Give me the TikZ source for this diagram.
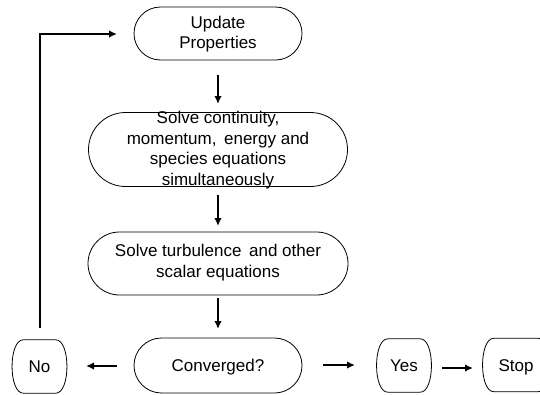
\documentclass[tikz,border=0pt]{standalone}
\usepackage{fontspec}
\setmainfont{Liberation Sans}
\usetikzlibrary{shapes.misc,arrows.meta}
\newcommand\smallframe[1]{%
  \draw[line width=0.8pt] ([xshift=9pt]#1.north west) -- ([xshift=-9pt]#1.north east)
    .. controls ([xshift=6pt]#1.north east) and ([xshift=6pt]#1.south east) .. ([xshift=-9pt]#1.south east)
    -- ([xshift=9pt]#1.south west)
    .. controls ([xshift=-6pt]#1.south west) and ([xshift=-6pt]#1.north west) .. cycle;}
\begin{document}
\begin{tikzpicture}[x=1pt,y=-1pt,
  stadium/.style={draw,line width=0.8pt,rounded rectangle,inner sep=0pt},
  smallbox/.style={rectangle,inner sep=0pt,minimum width=50pt,minimum height=53pt,text height=12.2pt,text depth=0pt,font=\fontsize{17}{20}\selectfont},
  txt/.style={align=center,font=\fontsize{17}{20.5}\selectfont,inner sep=0pt},
  flow/.style={line width=2pt,-{Latex[length=8pt,width=7.5pt]}}]
\useasboundingbox (0,0) rectangle (540,394);
\clip (0,0) rectangle (540,394);
\node[stadium,minimum width=168pt,minimum height=53pt] (up) at (218,33.5) {};
\node[txt] (upt) at (218,34) {Update\\Properties};
\node[stadium,minimum width=259pt,minimum height=74pt] (s2) at (218,149.5) {};
\node[txt] (s2t) at (218,150) {Solve continuity,\\momentum,\, energy and\\species equations\\simultaneously};
\node[stadium,minimum width=260pt,minimum height=63pt] (s3) at (218,263.5) {};
\node[txt] (s3t) at (218,262.5) {Solve turbulence\, and other\\scalar equations};
\node[stadium,minimum width=168pt,minimum height=55pt] (cv) at (218,365.5) {};
\node[txt,text height=12.2pt,text depth=0pt] (cvt) at (218,365.5) {Converged?};
\node[smallbox] (no) at (39.5,366.5) {No};
\smallframe{no}
\node[smallbox] (yes) at (404,365.5) {Yes};
\smallframe{yes}
\node[smallbox,minimum width=62pt] (stop) at (516,365) {Stop};
\smallframe{stop}
\coordinate (a1s) at (218,75);
\coordinate (a1e) at (218,104);
\draw[flow] (a1s) -- (a1e);
\coordinate (a2s) at (218,195);
\coordinate (a2e) at (218,226);
\draw[flow] (a2s) -- (a2e);
\coordinate (a3s) at (218,298);
\coordinate (a3e) at (218,329);
\draw[flow] (a3s) -- (a3e);
\coordinate (nos) at (117,366);
\coordinate (noe) at (86,366);
\draw[flow] (nos) -- (noe);
\coordinate (ys) at (323,365);
\coordinate (ye) at (355,365);
\draw[flow] (ys) -- (ye);
\coordinate (ss) at (442,368);
\coordinate (se) at (473,368);
\draw[flow] (ss) -- (se);
\coordinate (ls) at (40,328);
\coordinate (lc) at (40,34);
\coordinate (le) at (117,34);
\draw[flow] (ls) -- (lc) -- (le);
\end{tikzpicture}
\end{document}
